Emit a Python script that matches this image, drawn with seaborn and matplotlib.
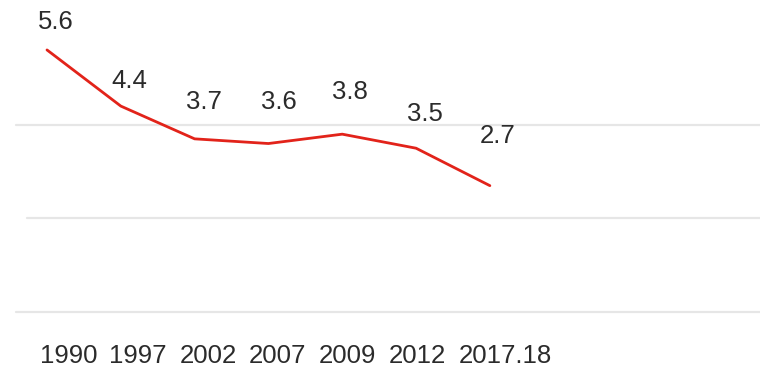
import matplotlib
matplotlib.use("Agg")
import matplotlib.pyplot as plt
import numpy as np
import pandas as pd
import seaborn as sns

years = ["1990", "1997", "2002", "2007", "2009", "2012", "2017.18"]
values = [5.6, 4.4, 3.7, 3.6, 3.8, 3.5, 2.7]
grid_levels = [0, 2, 4]

# Per-label nudges (pixels) for the value annotations
label_dx = [8.5, 9, 9, 10, 8, 8.5, 8]
label_dy = [28, 25.5, 37, 41.5, 42.5, 34, 49.5]
# Horizontal shift of the year labels (in category units)
tick_shift = [0.30, 0.23, 0.19, 0.12, 0.07, 0.02, 0.21]

sns.set_theme(style="white")
plt.rcParams["font.family"] = ["Liberation Sans", "DejaVu Sans"]

df = pd.DataFrame({"idx": np.arange(len(years)), "value": values})

fig = plt.figure(figsize=(7.6, 3.7), dpi=100)
ax = fig.add_axes([16 / 760, 58 / 370, 1 - 16 / 760, 312 / 370])

grid_color = "#e6e6e6"
for g in grid_levels:
    xmin = 11 / 744 if g == 2 else 0
    ax.axhline(g, xmin=xmin, xmax=1, color=grid_color, lw=1.6, zorder=0, clip_on=False)

sns.lineplot(data=df, x="idx", y="value", ax=ax, color="#e2231a", lw=2.0,
             marker=None, zorder=3)

text_color = "#2b2b2b"
fs = 18.5
for i, v in enumerate(values):
    ax.annotate(f"{v}", (i, v), xytext=(label_dx[i], label_dy[i]),
                textcoords="offset pixels", ha="center", va="center",
                fontsize=fs, color=text_color)

ax.set_xlim(-0.42, 9.66)
ax.set_ylim(0, 6.667)
ax.set_xticks(np.arange(len(years)) + np.array(tick_shift))
ax.set_xticklabels(years, fontsize=fs, color=text_color)
ax.tick_params(axis="x", length=0, pad=23)
ax.set_yticks([])
ax.set_xlabel("")
ax.set_ylabel("")
for s in ax.spines.values():
    s.set_visible(False)
ax.set_facecolor("white")
fig.patch.set_facecolor("white")

fig.savefig("out.png", dpi=100, facecolor="white")
